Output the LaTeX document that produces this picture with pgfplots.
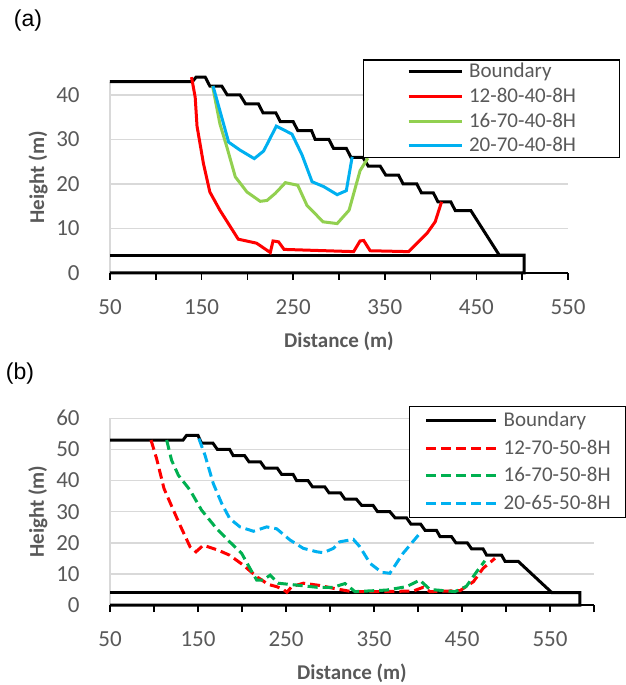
\documentclass[border=0pt]{standalone}
\usepackage{pgfplots}
\pgfplotsset{compat=1.18}
\usepackage{fontspec}
\setmainfont{Carlito}[BoldFont={Carlito Bold}]
\newfontfamily\arialfont{Liberation Sans}
\definecolor{txtgray}{HTML}{595959}
\definecolor{gridgray}{HTML}{D9D9D9}
\definecolor{ared}{HTML}{FF0000}
\definecolor{agreen}{HTML}{92D050}
\definecolor{ablue}{HTML}{00B0F0}
\definecolor{bgreen}{HTML}{00B050}
\newcommand{\labfont}{\fontsize{10.5}{12}\selectfont\bfseries}
\pgfplotsset{
  excelax/.style={
    scale only axis,
    clip=false,
    axis x line*=bottom,
    axis y line*=left,
    x axis line style={black, line width=0.75pt, -},
    y axis line style={gridgray, line width=0.75pt, -},
    tick align=outside,
    major tick length=3.5pt,
    xtick style={black, line width=0.75pt},
    ytick style={draw=none},
    ymajorgrids,
    grid style={gridgray, line width=0.75pt},
    /pgf/number format/assume math mode=true,
    tick label style={font=\fontsize{11.5}{13}\selectfont, text=txtgray},
    xticklabel style={anchor=center, inner sep=0pt, yshift=-13.5pt},
    yticklabel style={anchor=east, inner sep=0pt, xshift=-11.5pt},
    legend cell align=left,
    legend style={draw=black, line width=0.6pt, fill=white,
      column sep=3pt, text=txtgray,
      font=\fontsize{10.5}{12}\selectfont,
      nodes={inner sep=0pt, text height=8pt, text depth=2pt}},
  },
}
\begin{document}
\begin{tikzpicture}
\useasboundingbox (0pt,0pt) rectangle (313pt,342.5pt);
\node[font=\arialfont\fontsize{11.5}{13}\selectfont, anchor=center] at (14pt,332pt) {(a)};
\node[font=\arialfont\fontsize{11.5}{13}\selectfont, anchor=center] at (10pt,155.5pt) {(b)};

% ---------------- (a) ----------------
\begin{axis}[excelax,
  at={(55pt,206pt)}, anchor=south west,
  width=229pt, height=95.7pt,
  xmin=50, xmax=550, ymin=0, ymax=43,
  xtick={50,100,...,550},
  xticklabels={50,,150,,250,,350,,450,,550},
  ytick={0,10,20,30,40},
  xlabel={\labfont Distance (m)}, ylabel={\labfont Height (m)},
  every axis x label/.style={at={(axis description cs:0.5,-0.356)}, anchor=center, text=txtgray},
  every axis y label/.style={at={(axis description cs:-0.1572,0.5)}, rotate=90, anchor=center, text=txtgray},
  legend style={at={(0.5524,1.1157)}, anchor=north west,
    inner xsep=21.75pt, inner ysep=0.85pt, row sep=2.35pt},
  legend image code/.code={\draw[#1] (0pt,0pt) -- (26.5pt,0pt);},
]
\addplot[black, line width=1.5pt] coordinates {
(50,43) (140,43) (144,44) (154,44) (159,42) (172,42) (178,40) (192,40)
(198,38) (212,38) (217,36) (231,36) (236,34) (250,34) (255,32) (270,32)
(274,30) (289,30) (294,28) (308,28) (313,26) (326,26) (332,24) (345,24)
(351,22) (365,22) (370,20) (385,20) (390,18) (403,18) (408,16) (422,16)
(427,14) (444,14) (475,4) (502,4) (502,0) (50,0)};
\addlegendentry{Boundary}
\addplot[black, line width=1.5pt, forget plot] coordinates {(50,4) (502,4)};
\addplot[ared, line width=1.5pt] coordinates {
(139,44) (143,39.5) (145,33) (152,24.6) (159,18.2) (170,14.1) (190,7.6)
(210,6.7) (225,4.6) (228,7.2) (234,7.0) (240,5.3) (316,4.8) (323,7.2)
(327,7.3) (334,5.0) (376,4.8) (396,8.9) (405,11.5) (412,16.0)};
\addlegendentry{12-80-40-8H}
\addplot[agreen, line width=1.5pt] coordinates {
(162,42) (170,33.5) (177.6,28.3) (186.8,21.6) (199.5,18.2) (214,16.1)
(221.4,16.3) (230.5,17.9) (241.5,20.3) (255,19.7) (265,15.2) (282.6,11.5)
(298,11.1) (311,14.1) (323,23) (331.5,25.8)};
\addlegendentry{16-70-40-8H}
\addplot[ablue, line width=1.5pt] coordinates {
(162.5,42) (179.5,29.4) (192,27.6) (207.5,25.7) (217.7,27.4) (231.6,33.0)
(248.7,31.2) (259.7,26.5) (270.6,20.5) (283.4,19.4) (298,17.6) (308,18.5)
(314.4,26.1)};
\addlegendentry{20-70-40-8H}
\end{axis}

% ---------------- (b) ----------------
\begin{axis}[excelax,
  at={(55pt,40pt)}, anchor=south west,
  width=242pt, height=93.35pt,
  xmin=50, xmax=600, ymin=0, ymax=60,
  xtick={50,100,...,600},
  xticklabels={50,,150,,250,,350,,450,,550,},
  ytick={0,10,20,30,40,50,60},
  xlabel={\labfont Distance (m)}, ylabel={\labfont Height (m)},
  every axis x label/.style={at={(axis description cs:0.5,-0.364)}, anchor=center, text=txtgray},
  every axis y label/.style={at={(axis description cs:-0.1488,0.5)}, rotate=90, anchor=center, text=txtgray},
  legend style={at={(0.6184,1.0675)}, anchor=north west,
    inner xsep=7.4pt, inner ysep=2pt, row sep=3.85pt},
  legend image code/.code={\draw[#1] (0pt,0pt) -- (35pt,0pt);},
]
\addplot[black, line width=1.5pt] coordinates {
(50,53) (133,53) (137,54.5) (150,54.5) (154,52) (167,52) (172,50) (186,50)
(190,48) (203,48) (208,46) (221,46) (226,44) (240,44) (245,42) (258,42)
(262,40) (275,40) (280,38) (294,38) (299,36) (312,36) (317,34) (330,34)
(336,32) (349,32) (354,30) (368,30) (374,28) (387,28) (392,26) (403,26)
(408,24) (421,24) (425,22) (438,22) (443,20) (456,20) (461,18) (474,18)
(478,16) (495,16) (499,14) (514,14) (552,4) (584,4) (584,0) (50,0)};
\addlegendentry{Boundary}
\addplot[black, line width=1.5pt, forget plot] coordinates {(50,4) (584,4)};
\addplot[ared, line width=1.5pt, dash pattern=on 5pt off 2.5pt] coordinates {
(96.6,53) (103,47) (111.4,37.4) (122,30.5) (129.5,25.7) (141,18.7)
(147.7,17.1) (156,19.2) (173,17.6) (186,16) (201.5,12.8) (216.7,9.1)
(230,6.6) (239.4,5.9) (247,5.0) (251,4.1) (256.5,5.9) (269.7,7.0)
(288,6.3) (305,5.3) (324.6,4.3) (360.6,4.3) (394.7,4.5) (406,5.7)
(413.6,4.3) (447.7,4.6) (463,7.5) (474,11.8) (487.5,15)};
\addlegendentry{12-70-50-8H}
\addplot[bgreen, line width=1.5pt, dash pattern=on 5pt off 2.5pt] coordinates {
(114.4,53) (120,46.5) (127.7,41.7) (141,36.9) (154,30.5) (171,24.6)
(186,20.3) (199.6,16.6) (209,11.8) (216.7,8.0) (224,8.0) (232,9.6)
(241,7.0) (262,6.4) (285,5.7) (304,5.7) (317,6.9) (328.4,4.3)
(364.4,4.8) (387,5.9) (402,8) (413.6,5.0) (442,4.3) (455,6.0)
(466.7,10.7) (476,14.2)};
\addlegendentry{16-70-50-8H}
\addplot[ablue, line width=1.5pt, dash pattern=on 5pt off 2.5pt] coordinates {
(151,53.5) (158,48.1) (167.4,39) (177,32.6) (186,27.8) (197.7,25.1)
(213,23.7) (228,25.1) (239.4,24.5) (254.5,20.9) (269.7,18.2) (285,17.1)
(292.4,16.8) (303.8,18.2) (311,20.3) (326.5,21.1) (334,18.7) (345.5,13.4)
(358.7,10.5) (368,10.2) (383,16.6) (402,23)};
\addlegendentry{20-65-50-8H}
\end{axis}
\end{tikzpicture}
\end{document}
